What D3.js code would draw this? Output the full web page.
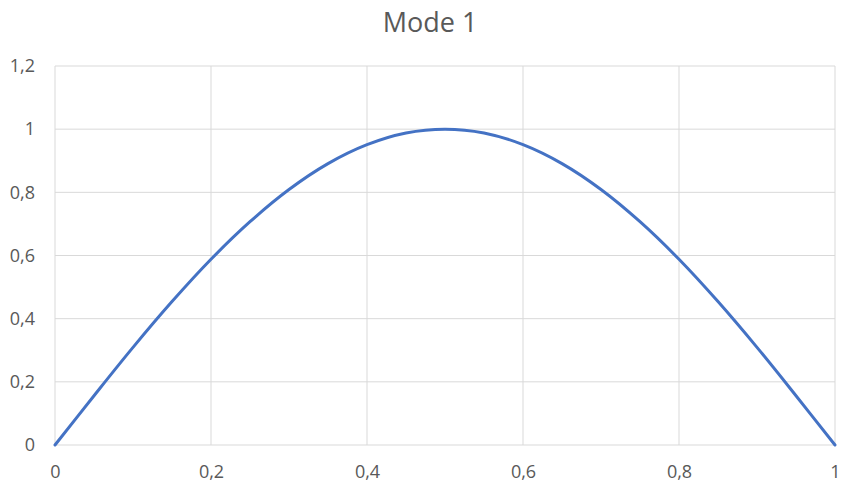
<!DOCTYPE html>
<html>
<head>
<meta charset="utf-8">
<script src="https://cdn.jsdelivr.net/npm/d3@7"></script>
<style>
  body { margin: 0; background: #fff; }
  svg { display: block; font-family: "Open Sans", "Liberation Sans", sans-serif; }
</style>
</head>
<body>
<svg id="chart"></svg>
<script>
// Данные
const xValues = [0, 0.05, 0.1, 0.15, 0.2, 0.25, 0.3, 0.35, 0.4, 0.45, 0.5,
                 0.55, 0.6, 0.65, 0.7, 0.75, 0.8, 0.85, 0.9, 0.95, 1];
const yValues = [0, 0.156, 0.309, 0.454, 0.588, 0.707, 0.809, 0.891, 0.951, 0.988, 1,
                 0.988, 0.951, 0.891, 0.809, 0.707, 0.588, 0.454, 0.309, 0.156, 0];
const xTicks = [0, 0.2, 0.4, 0.6, 0.8, 1];
const yTicks = [0, 0.2, 0.4, 0.6, 0.8, 1, 1.2];
const title = 'Mode 1';

const width = 845, height = 488;
const margin = { top: 66, right: 10, bottom: 43, left: 55 };

const svg = d3.select('#chart').attr('width', width).attr('height', height);

const x = d3.scaleLinear().domain([0, 1]).range([margin.left, width - margin.right]);
const y = d3.scaleLinear().domain([0, 1.2]).range([height - margin.bottom, margin.top]);

const fmt = d => String(+d.toFixed(1)).replace('.', ',');

// Сетка
svg.append('g')
  .selectAll('line')
  .data(yTicks)
  .join('line')
  .attr('x1', x(0)).attr('x2', x(1))
  .attr('y1', d => y(d)).attr('y2', d => y(d))
  .attr('stroke', '#d9d9d9');

svg.append('g')
  .selectAll('line')
  .data(xTicks)
  .join('line')
  .attr('x1', d => x(d)).attr('x2', d => x(d))
  .attr('y1', y(0)).attr('y2', y(1.2))
  .attr('stroke', '#d9d9d9');

// Оси (только подписи)
const xAxis = svg.append('g')
  .attr('transform', `translate(0,${y(0)})`)
  .call(d3.axisBottom(x).tickValues(xTicks).tickFormat(fmt).tickSize(0).tickPadding(20));
xAxis.select('.domain').remove();

const yAxis = svg.append('g')
  .attr('transform', `translate(${margin.left},0)`)
  .call(d3.axisLeft(y).tickValues(yTicks).tickFormat(fmt).tickSize(0).tickPadding(20));
yAxis.select('.domain').remove();

svg.selectAll('.tick text')
  .attr('fill', '#595959')
  .style('font-size', '18px')
  .style('font-family', '"Open Sans", sans-serif');

// Кривая
const points = xValues.map((v, i) => [v, yValues[i]]);
svg.append('path')
  .datum(points)
  .attr('fill', 'none')
  .attr('stroke', '#4472c4')
  .attr('stroke-width', 3)
  .attr('stroke-linecap', 'round')
  .attr('d', d3.line().x(d => x(d[0])).y(d => y(d[1])).curve(d3.curveCatmullRom));

// Заголовок
svg.append('text')
  .attr('x', 430)
  .attr('y', 32)
  .attr('text-anchor', 'middle')
  .attr('font-size', 27)
  .attr('fill', '#595959')
  .text(title);
</script>
</body>
</html>
